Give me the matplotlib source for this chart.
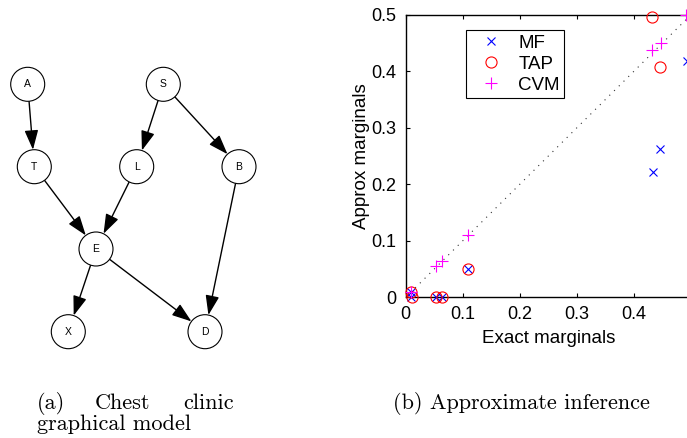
import numpy as np
import matplotlib
matplotlib.use("Agg")
import matplotlib.pyplot as plt
from matplotlib.patches import Circle, FancyArrowPatch

W, H = 687, 438
DPI = 100

# ---------------- data ----------------
nodes = ["A", "S", "T", "L", "B", "E", "X", "D"]
edges = [("A", "T"), ("S", "L"), ("S", "B"), ("T", "E"),
         ("L", "E"), ("B", "D"), ("E", "X"), ("E", "D")]

mf_x = [0.010, 0.010, 0.054, 0.064, 0.109, 0.433, 0.446, 0.494]
mf_y = [0.010, 0.000, 0.000, 0.000, 0.050, 0.222, 0.263, 0.419]

tap_x = [0.010, 0.011, 0.054, 0.064, 0.109, 0.432, 0.446]
tap_y = [0.010, 0.000, 0.000, 0.000, 0.050, 0.496, 0.408]

cvm_x = [0.010, 0.054, 0.064, 0.109, 0.432, 0.448, 0.492]
cvm_y = [0.010, 0.056, 0.065, 0.110, 0.438, 0.450, 0.500]

series_names = ["MF", "TAP", "CVM"]
xticks = [0, 0.1, 0.2, 0.3, 0.4, 0.5]
yticks = [0, 0.1, 0.2, 0.3, 0.4, 0.5]
xtick_labels = ["0", "0.1", "0.2", "0.3", "0.4", ""]
ytick_labels = ["0", "0.1", "0.2", "0.3", "0.4", "0.5"]

# ---------------- layout (pixel positions of graph nodes) ----------------
node_pos = {"A": (27.7, 84.3), "S": (163.3, 84.3),
            "T": (34.3, 166.7), "L": (136.7, 166.7), "B": (239.0, 166.7),
            "E": (96.0, 249.0),
            "X": (68.3, 331.7), "D": (205.0, 331.7)}
R = 17.0

fig = plt.figure(figsize=(W / DPI, H / DPI), dpi=DPI)

# ---------------- graph panel ----------------
gax = fig.add_axes([0, 0, 1, 1])
gax.set_xlim(0, W)
gax.set_ylim(H, 0)
gax.axis("off")
gax.set_zorder(0)

for n in nodes:
    x, y = node_pos[n]
    gax.add_patch(Circle((x, y), R, facecolor="white", edgecolor="black",
                         linewidth=0.8, zorder=2))
    gax.text(x, y, n, ha="center", va="center", fontsize=7.5,
             family="Liberation Sans", zorder=3)

for a, b in edges:
    x0, y0 = node_pos[a]
    x1, y1 = node_pos[b]
    d = np.hypot(x1 - x0, y1 - y0)
    ux, uy = (x1 - x0) / d, (y1 - y0) / d
    p0 = (x0 + ux * R, y0 + uy * R)
    p1 = (x1 - ux * R, y1 - uy * R)
    arr = FancyArrowPatch(p0, p1, arrowstyle="-|>,head_length=12,head_width=4.2",
                          mutation_scale=1, color="black", linewidth=1.0,
                          shrinkA=0, shrinkB=0, zorder=1)
    gax.add_patch(arr)

# ---------------- scatter panel ----------------
left = 405.7 / W
bottom = (H - 297.3) / H
width = 285.0 / W
height = (297.3 - 15.0) / H
ax = fig.add_axes([left, bottom, width, height])
ax.set_zorder(2)
ax.set_xlim(0, 0.5)
ax.set_ylim(0, 0.5)

ax.plot([0, 0.5], [0, 0.5], linestyle=(0, (1, 5)), color="#333333",
        linewidth=0.8, zorder=1)
ax.plot(mf_x, mf_y, linestyle="none", marker="x", color="blue",
        markersize=6, markeredgewidth=0.8, label=series_names[0], clip_on=False, zorder=3)
ax.plot(tap_x, tap_y, linestyle="none", marker="o", markerfacecolor="none",
        markeredgecolor="red", markersize=8, markeredgewidth=0.8,
        label=series_names[1], clip_on=False, zorder=3)
ax.plot(cvm_x, cvm_y, linestyle="none", marker="+", color="magenta",
        markersize=8, markeredgewidth=0.8, label=series_names[2], clip_on=False, zorder=3)

ax.set_xticks(xticks)
ax.set_xticklabels(xtick_labels)
ax.set_yticks(yticks)
ax.set_yticklabels(ytick_labels)
ax.tick_params(direction="in", length=3, width=0.8, top=True, right=True,
               labelsize=13, pad=6)
ax.tick_params(axis="y", pad=7)
for lab in ax.get_xticklabels() + ax.get_yticklabels():
    lab.set_family("Liberation Sans")
for s in ax.spines.values():
    s.set_linewidth(1.0)

ax.set_xlabel("Exact marginals", fontsize=13.5, family="Liberation Sans", labelpad=5)
ax.set_ylabel("Approx marginals", fontsize=13.5, family="Liberation Sans", labelpad=1)

leg = ax.legend(loc="upper left", bbox_to_anchor=(0.2105, 0.947), borderaxespad=0,
                frameon=True, fancybox=False, shadow=False, edgecolor="black",
                framealpha=1, prop={"family": "Liberation Sans", "size": 13.5},
                handletextpad=0.4, borderpad=0.25, labelspacing=0.2, handlelength=2.15)
leg.get_frame().set_linewidth(0.8)

# ---------------- captions ----------------
cap_font = dict(family="cmr10", fontsize=16, va="baseline")
gax.text(37, 409, "(a)", ha="left", **cap_font)
gax.text(95, 409, "Chest", ha="left", **cap_font)
gax.text(234, 409, "clinic", ha="right", **cap_font)
gax.text(37, 430, "graphical model", ha="left", **cap_font)
gax.text(393, 409, "(b) Approximate inference", ha="left", **cap_font)

fig.savefig("out.png", dpi=DPI)
